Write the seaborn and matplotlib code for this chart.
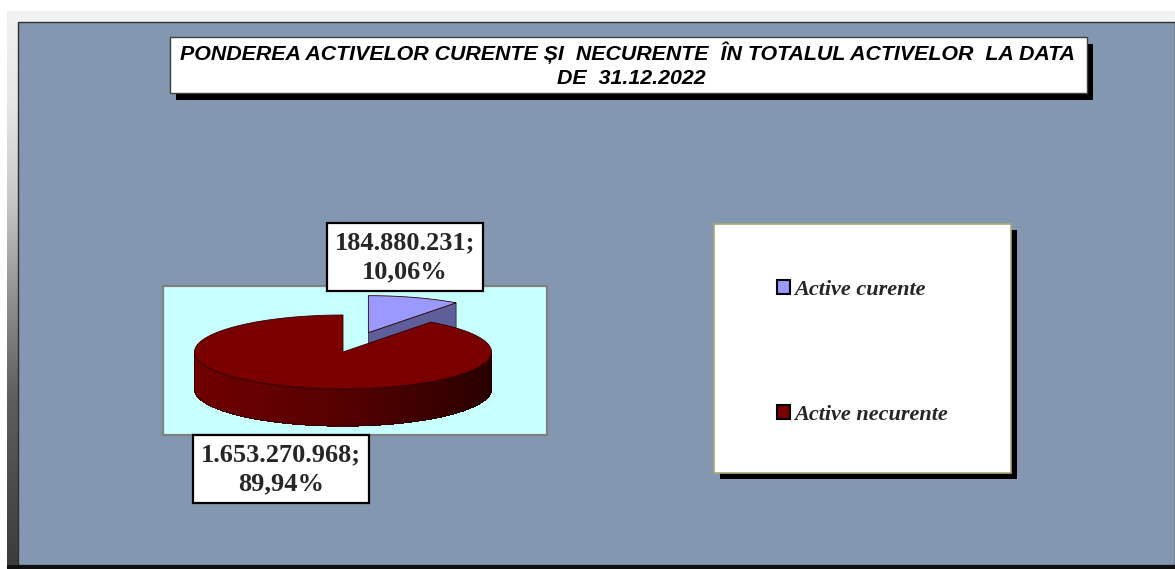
import numpy as np
import matplotlib
matplotlib.use("Agg")
import matplotlib.pyplot as plt
from matplotlib.patches import Rectangle, Polygon, Patch
from matplotlib.collections import PolyCollection
from matplotlib.colors import LinearSegmentedColormap
import seaborn as sns

# ---- data -------------------------------------------------------------
categories = ["Active curente", "Active necurente"]
values = [184880231, 1653270968]
title_lines = [
    "PONDEREA ACTIVELOR CURENTE ȘI  NECURENTE  ÎN TOTALUL ACTIVELOR  LA DATA",
    "DE  31.12.2022",
]

# ---- style ------------------------------------------------------------
sns.set_style("white")
plt.rcParams["font.family"] = ["Liberation Sans", "DejaVu Sans"]

top_colors = ["#9999ff", "#7a0000"]
face_colors = ["#5e5e9a", "#5a0000"]
wall_palettes = [
    sns.blend_palette(["#3c3c70", "#5e5e9a", "#7070b0"], 64),
    sns.blend_palette(["#2a0000", "#560000", "#700000"], 64),
]
explode = [0.55, 0.0]

W, H = 1175, 569
fig = plt.figure(figsize=(W / 100, H / 100), dpi=100)
fig.patch.set_facecolor("white")
bg = fig.add_axes([0, 0, 1, 1])
bg.axis("off")

# ---- frame / background ----------------------------------------------
bg.add_patch(Rectangle((7, 11), W - 7, 12, facecolor="#f2f2f2", edgecolor="none", zorder=0))
strip_cmap = LinearSegmentedColormap.from_list(
    "strip", [(0, "#f2f2f2"), (0.17, "#e6e6e6"), (0.34, "#c8c8c8"),
              (0.52, "#909090"), (0.70, "#5e5e5e"), (1.0, "#3c3c3c")])
bg.imshow(np.linspace(0, 1, 256)[:, None], extent=(7, 18, 565, 11), origin="upper",
          cmap=strip_cmap, aspect="auto", zorder=0)
bg.add_patch(Rectangle((18, 22), W - 18, 543, facecolor="#8497b0", edgecolor="#303030",
                       linewidth=1.0, zorder=1))
bg.add_patch(Rectangle((7, 565), W - 7, 4, facecolor="#101010", edgecolor="none", zorder=1))

# ---- title box --------------------------------------------------------
tb = (170, 37, 917, 56)
bg.add_patch(Rectangle((tb[0] + 6, tb[1] + 7), tb[2], tb[3], facecolor="black",
                       edgecolor="none", zorder=2))
bg.add_patch(Rectangle(tb[:2], tb[2], tb[3], facecolor="white", edgecolor="#404040",
                       linewidth=1.0, zorder=3))
for (tx, ty), line in zip([(627, 60), (631, 84)], title_lines):
    bg.text(tx, ty, line, ha="center", va="baseline", fontsize=15.4, color="black",
            fontweight="bold", fontstyle="italic", zorder=4)

# ---- plot area --------------------------------------------------------
bg.add_patch(Rectangle((163, 286), 384, 149, facecolor="#c8ffff", edgecolor="#808080",
                       linewidth=1.6, zorder=2))

# ---- 3D pie -----------------------------------------------------------
cx, cy, a, b, depth = 343, 352, 148.5, 37, 37


def pt(t, ox=0.0, oy=0.0, dz=0.0):
    r = np.deg2rad(t)
    return (cx + ox + a * np.cos(r), cy + oy - b * np.sin(r) + dz)


total = float(sum(values))
fracs = [v / total for v in values]
slices = []
start = 90.0
for i, f in enumerate(fracs):
    hi = start
    lo = start - f * 360.0
    mr = np.deg2rad(0.5 * (lo + hi))
    ox = explode[i] * a * np.cos(mr)
    oy = -explode[i] * b * np.sin(mr)
    slices.append(dict(i=i, lo=lo, hi=hi, ox=ox, oy=oy))
    start = lo

# slices further back are painted first
order = sorted(slices, key=lambda s: s["oy"])

z = 5
for s in order:
    i, lo, hi, ox, oy = s["i"], s["lo"], s["hi"], s["ox"], s["oy"]
    c0 = (cx + ox, cy + oy)
    # radial cut faces turned toward the viewer
    for ang, vis in ((lo, np.cos(np.deg2rad(lo)) > 1e-6),
                     (hi, np.cos(np.deg2rad(hi)) < -1e-6)):
        if vis:
            e = pt(ang, ox, oy)
            quad = [c0, e, (e[0], e[1] + depth), (c0[0], c0[1] + depth)]
            bg.add_patch(Polygon(quad, closed=True, facecolor=face_colors[i],
                                 edgecolor="#202020", linewidth=0.5, zorder=z))
    # outer wall on the front half, shaded from left to right
    for base in (-360.0, 0.0, 360.0):
        w_lo = max(lo, base - 180.0)
        w_hi = min(hi, base)
        if w_hi - w_lo <= 0:
            continue
        ts = np.linspace(w_lo, w_hi, 160)
        pal = wall_palettes[i]
        quads, cols = [], []
        for t0, t1 in zip(ts[:-1], ts[1:]):
            u = (1 - np.cos(np.deg2rad(0.5 * (t0 + t1)))) / 2
            cols.append(pal[min(int(u * (len(pal) - 1)), len(pal) - 1)])
            p0, p1 = pt(t0, ox, oy), pt(t1, ox, oy)
            quads.append([p0, p1, (p1[0], p1[1] + depth), (p0[0], p0[1] + depth)])
        bg.add_collection(PolyCollection(quads, facecolors=cols, edgecolors=cols,
                                         linewidths=0.3, antialiaseds=False, zorder=z))
        outline = ([pt(t, ox, oy) for t in ts] +
                   [pt(t, ox, oy, depth) for t in ts[::-1]])
        bg.add_patch(Polygon(outline, closed=True, facecolor="none", edgecolor="#200000",
                             linewidth=0.5, zorder=z + 0.5))
    # top face
    ts = np.linspace(lo, hi, 200)
    poly = [c0] + [pt(t, ox, oy) for t in ts]
    bg.add_patch(Polygon(poly, closed=True, facecolor=top_colors[i], edgecolor="#300000",
                         linewidth=0.6, zorder=z + 1))
    z += 2


# ---- data labels ------------------------------------------------------
def fmt_label(v):
    num = f"{v:,}".replace(",", ".")
    pct = f"{100 * v / total:.2f}".replace(".", ",")
    return f"{num};\n{pct}%"


label_pos = [(405, 257), (281, 469)]
for (x, y), v in zip(label_pos, values):
    bg.text(x, y, fmt_label(v), ha="center", va="center", fontsize=19,
            fontweight="bold", family=["Liberation Serif", "DejaVu Serif"],
            linespacing=1.32, zorder=20,
            bbox=dict(boxstyle="square,pad=0.3", facecolor="white", edgecolor="black",
                      linewidth=1.6))

# ---- legend -----------------------------------------------------------
lb = (714, 224, 297, 249)
bg.add_patch(Rectangle((lb[0] + 6, lb[1] + 6), lb[2], lb[3], facecolor="black",
                       edgecolor="none", zorder=2))
bg.add_patch(Rectangle(lb[:2], lb[2], lb[3], facecolor="white", edgecolor="#a8a878",
                       linewidth=1.2, zorder=3))
handles = [Patch(facecolor=c, edgecolor="black", linewidth=1.5) for c in top_colors]
leg = bg.legend(handles, categories, loc="upper left", bbox_to_anchor=(777, 280),
                bbox_transform=bg.transData, frameon=False, handlelength=0.6,
                handleheight=0.6, handletextpad=0.15, labelspacing=4.72, borderpad=0,
                borderaxespad=0,
                prop=dict(family=["Liberation Serif", "DejaVu Serif"], size=16,
                          weight="bold", style="italic"))
leg.set_zorder(10)

bg.set_xlim(0, W)
bg.set_ylim(H, 0)
fig.savefig("out.png", dpi=100, facecolor="white")
